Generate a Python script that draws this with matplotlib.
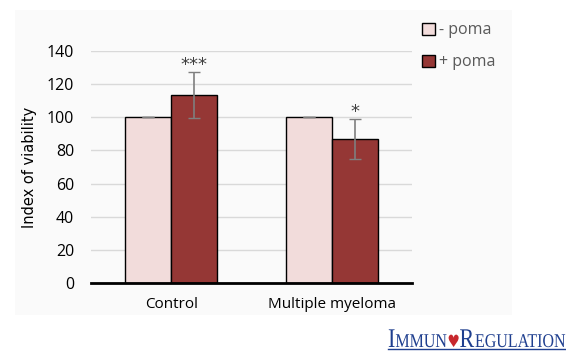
import numpy as np
import matplotlib.pyplot as plt
from matplotlib.patches import Rectangle, PathPatch
from matplotlib.textpath import TextPath
from matplotlib.font_manager import FontProperties
from matplotlib.transforms import Affine2D

groups = ["Control", "Multiple myeloma"]
minus_poma = [100, 100]
plus_poma = [113.5, 87]
minus_err = [0, 0]
plus_err = [14, 12]
stars = ["***", "*"]
series_labels = ["- poma", "+ poma"]

light = "#f2dcdb"
dark = "#953735"

fig = plt.figure(figsize=(5.66, 3.52), dpi=100)
W, H = 566, 352

# light panel behind the chart
fig.patches.append(Rectangle((15 / W, 1 - 315 / H), 497 / W, 305 / H,
                             transform=fig.transFigure, facecolor="#fafafa",
                             edgecolor="none", zorder=-1))

ax = fig.add_axes([91 / W, 1 - 283 / H, 321 / W, 232 / H])
ax.set_zorder(1)
ax.set_facecolor("none")

x = np.arange(len(groups))
w = 0.286
ax.bar(x - w / 2, minus_poma, w, color=light, edgecolor="black", linewidth=1.0,
       yerr=minus_err, ecolor="#7f7f7f", capsize=4, error_kw={"elinewidth": 1.2},
       zorder=3, label=series_labels[0])
ax.bar(x + w / 2, plus_poma, w, color=dark, edgecolor="black", linewidth=1.0,
       yerr=plus_err, ecolor="#7f7f7f", capsize=4, error_kw={"elinewidth": 1.2},
       zorder=3, label=series_labels[1])

for xi, v, e, s in zip(x, plus_poma, plus_err, stars):
    ax.text(xi + w / 2, v + e - 1.5, s, ha="center", va="bottom",
            fontsize=13, color="#404040", family="DejaVu Sans")

ax.set_ylim(0, 140)
ax.set_xlim(-0.5, 1.5)
ax.set_yticks(range(0, 141, 20))
ax.grid(axis="y", color="#d9d9d9", linewidth=1.0, zorder=0)
for side in ["top", "right", "left"]:
    ax.spines[side].set_visible(False)
ax.spines["bottom"].set_linewidth(2.0)
ax.spines["bottom"].set_zorder(4)
ax.tick_params(axis="y", length=0, labelsize=11.5, colors="black", pad=12)
ax.tick_params(axis="x", length=0, labelsize=11, colors="black", pad=10)
ax.set_xticks(x)
ax.set_xticklabels(groups, family="Open Sans")
for t in ax.get_yticklabels():
    t.set_family("Open Sans")
ax.set_ylabel("Index of viability", family="Liberation Sans Narrow", fontsize=10.5, labelpad=7)

leg = fig.legend(loc="upper left", bbox_to_anchor=(408 / W, 1 - 8 / H), frameon=False,
                 handlelength=0.8, handleheight=0.8, handletextpad=0.25,
                 labelspacing=1.0, prop={"family": "Open Sans", "size": 11.5})
for t in leg.get_texts():
    t.set_color("#595959")

# journal mark: condensed small-caps serif lettering, drawn as paths
serif = FontProperties(family="Liberation Serif")
pieces = [("I", 27, serif, "#1f3f8f"), ("MMUN", 19.5, serif, "#1f3f8f"),
          ("\u2665", 17, FontProperties(family="DejaVu Sans"), "#c8282d"),
          ("R", 27, serif, "#1f3f8f"), ("EGULATION", 19.5, serif, "#1f3f8f")]
paths = []
cursor = 0
for s, size, fp, col in pieces:
    p = TextPath((cursor, 0), s, size=size, prop=fp)
    paths.append((p, col))
    cursor = p.get_extents().x1 + 1
x0, base, span = 388, 352 - 347, 178
sx = span / cursor
for p, col in paths:
    tr = Affine2D().scale(sx, 1.0).translate(x0, base)
    fig.add_artist(PathPatch(p, transform=tr, facecolor=col, edgecolor="none"))
fig.add_artist(plt.Line2D([x0 / W, (x0 + span) / W], [1 - 349 / H, 1 - 349 / H],
                          color="#1f3f8f", linewidth=1.0))

fig.savefig("out.png", dpi=100)
